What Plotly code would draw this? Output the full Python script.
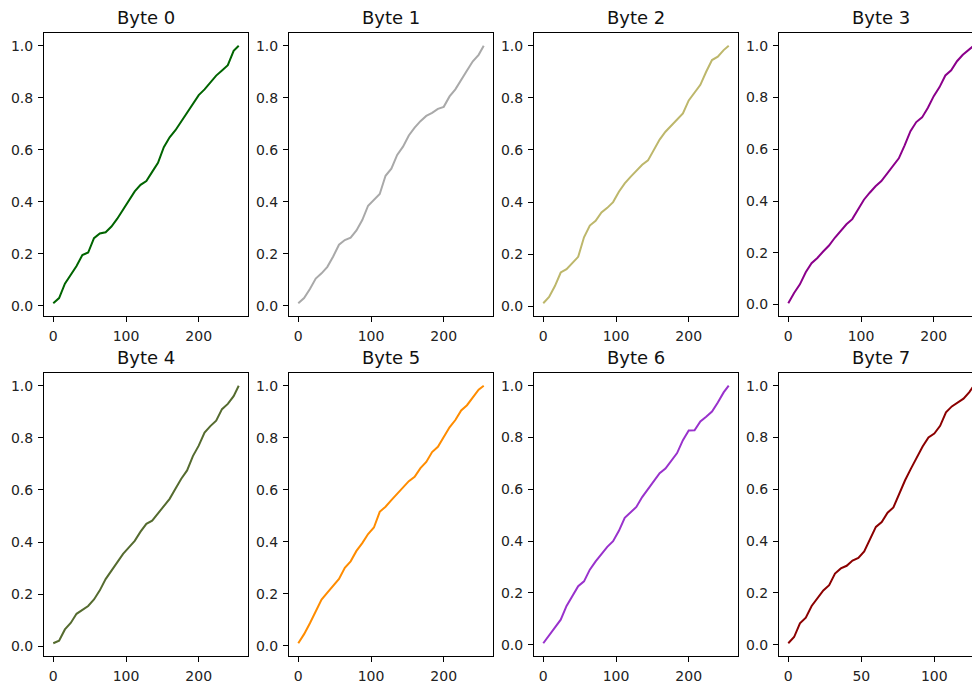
import plotly.graph_objects as go

# Byte values sampled along the x axis (bytes 0-6 span 0..255, byte 7 spans 0..127)
byte_values = list(range(0, 256, 8)) + [255]
byte7_values = list(range(0, 128, 4)) + [127]

# Cumulative fraction of samples at or below each byte value
cdf_byte0 = [0.01, 0.03, 0.085, 0.12, 0.153, 0.195, 0.205, 0.26, 0.278, 0.283, 0.305,
             0.335, 0.37, 0.405, 0.44, 0.465, 0.48, 0.515, 0.55, 0.61, 0.648, 0.675,
             0.71, 0.74, 0.775, 0.81, 0.832, 0.86, 0.885, 0.905, 0.925, 0.98, 1.0]
cdf_byte1 = [0.01, 0.03, 0.065, 0.105, 0.125, 0.15, 0.19, 0.235, 0.253, 0.262, 0.29,
             0.33, 0.385, 0.408, 0.43, 0.5, 0.527, 0.58, 0.612, 0.655, 0.685, 0.71,
             0.73, 0.742, 0.757, 0.765, 0.805, 0.832, 0.87, 0.905, 0.94, 0.965, 1.0]
cdf_byte2 = [0.012, 0.036, 0.078, 0.13, 0.143, 0.165, 0.19, 0.265, 0.31, 0.328, 0.36,
             0.378, 0.40, 0.44, 0.472, 0.497, 0.522, 0.543, 0.56, 0.6, 0.64, 0.67,
             0.693, 0.713, 0.74, 0.79, 0.818, 0.85, 0.9, 0.945, 0.958, 0.983, 1.0]
cdf_byte3 = [0.005, 0.045, 0.078, 0.125, 0.16, 0.18, 0.205, 0.228, 0.258, 0.283, 0.31,
             0.33, 0.37, 0.405, 0.432, 0.457, 0.477, 0.505, 0.535, 0.565, 0.615, 0.67,
             0.705, 0.723, 0.76, 0.805, 0.84, 0.885, 0.905, 0.94, 0.965, 0.985, 1.0]
cdf_byte4 = [0.012, 0.022, 0.065, 0.09, 0.125, 0.14, 0.155, 0.18, 0.215, 0.258, 0.29,
             0.318, 0.355, 0.38, 0.405, 0.44, 0.47, 0.482, 0.51, 0.538, 0.566, 0.605,
             0.643, 0.675, 0.73, 0.77, 0.82, 0.845, 0.866, 0.91, 0.93, 0.96, 1.0]
cdf_byte5 = [0.01, 0.045, 0.087, 0.135, 0.178, 0.205, 0.23, 0.257, 0.3, 0.325, 0.365,
             0.395, 0.43, 0.455, 0.515, 0.535, 0.56, 0.585, 0.612, 0.633, 0.65, 0.683,
             0.707, 0.745, 0.765, 0.805, 0.84, 0.868, 0.905, 0.925, 0.955, 0.985, 1.0]
cdf_byte6 = [0.006, 0.038, 0.066, 0.097, 0.15, 0.186, 0.226, 0.245, 0.29, 0.322, 0.35,
             0.378, 0.4, 0.44, 0.49, 0.513, 0.532, 0.57, 0.6, 0.632, 0.662, 0.68,
             0.708, 0.74, 0.79, 0.827, 0.828, 0.862, 0.88, 0.9, 0.935, 0.974, 1.0]
cdf_byte7 = [0.006, 0.03, 0.083, 0.105, 0.15, 0.18, 0.21, 0.23, 0.275, 0.295, 0.305,
             0.325, 0.335, 0.36, 0.405, 0.455, 0.474, 0.51, 0.53, 0.585, 0.635, 0.68,
             0.724, 0.765, 0.8, 0.815, 0.845, 0.897, 0.92, 0.935, 0.95, 0.975, 1.0]

titles = ["Byte 0", "Byte 1", "Byte 2", "Byte 3", "Byte 4", "Byte 5", "Byte 6", "Byte 7"]
colors = ["#006400", "#a9a9a9", "#bdb76b", "#8b008b",
          "#556b2f", "#ff8c00", "#9932cc", "#8b0000"]
series = [
    (byte_values, cdf_byte0), (byte_values, cdf_byte1),
    (byte_values, cdf_byte2), (byte_values, cdf_byte3),
    (byte_values, cdf_byte4), (byte_values, cdf_byte5),
    (byte_values, cdf_byte6), (byte7_values, cdf_byte7),
]
x_dticks = [100, 100, 100, 100, 100, 100, 100, 50]

# Page geometry (pixels)
W, H = 972, 684
col_left = [44, 289, 534, 779]
panel_w = 204
row_top = [33, 375]
panel_h = 285

FONT = "DejaVu Sans, Verdana, sans-serif"
fig = go.Figure()
annotations = []

for i, ((xs, ys), title, color, dt) in enumerate(zip(series, titles, colors, x_dticks)):
    r, c = divmod(i, 4)
    n = i + 1
    xa = "xaxis" if n == 1 else f"xaxis{n}"
    ya = "yaxis" if n == 1 else f"yaxis{n}"
    xr = "x" if n == 1 else f"x{n}"
    yr = "y" if n == 1 else f"y{n}"

    fig.add_trace(go.Scatter(x=xs, y=ys, mode="lines", xaxis=xr, yaxis=yr,
                             line=dict(color=color, width=2), showlegend=False,
                             hoverinfo="x+y"))

    # matplotlib-style 5% margins around the data
    xmin, xmax = min(xs), max(xs)
    xpad = 0.05 * (xmax - xmin)
    x0, x1 = xmin - xpad, xmax + xpad
    ymin, ymax = min(ys), max(ys)
    ypad = 0.05 * (ymax - ymin)

    left = col_left[c]
    right = left + panel_w
    last_col = right > W
    if last_col:
        # panel runs off the right edge of the page: keep the scale, cut the view
        visible = (W - left) / panel_w
        x1 = x0 + (x1 - x0) * visible
        right = W

    top = row_top[r]
    bottom = top + panel_h
    xdom = [left / W, right / W]
    ydom = [1 - bottom / H, 1 - top / H]

    axis_common = dict(showline=True, linecolor="black", linewidth=1,
                       ticks="outside", ticklen=5, tickwidth=1, tickcolor="black",
                       ticklabelstandoff=2,
                       showgrid=False, zeroline=False,
                       tickfont=dict(family=FONT, size=14, color="#222222"))
    fig.layout[xa] = dict(domain=xdom, range=[x0, x1], anchor=yr, dtick=dt, tick0=0,
                          mirror=True, **axis_common)
    fig.layout[ya] = dict(domain=ydom, range=[ymin - ypad, ymax + ypad], anchor=xr,
                          dtick=0.2, tick0=0, tickformat=".1f",
                          mirror=not last_col, **axis_common)

    annotations.append(dict(text=title, xref="paper", yref="paper",
                            x=(col_left[c] + panel_w / 2) / W, y=1 - top / H,
                            xanchor="center", yanchor="bottom", yshift=3,
                            showarrow=False,
                            font=dict(family=FONT, size=18, color="#111111")))

fig.update_layout(width=W, height=H, margin=dict(l=0, r=0, t=0, b=0),
                  paper_bgcolor="white", plot_bgcolor="white",
                  annotations=annotations)

fig.write_html("out.html")
